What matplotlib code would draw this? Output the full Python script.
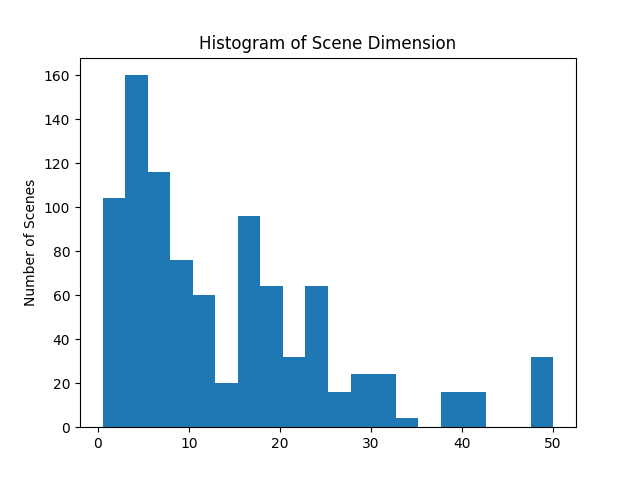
import numpy as np
import matplotlib
matplotlib.use('Agg')
import matplotlib.pyplot as plt

# scene dimension histogram
dim_min = 0.5
dim_max = 50.1
counts = [104, 160, 116, 76, 60, 20, 96, 64, 32, 64,
          16, 24, 24, 4, 0, 16, 16, 0, 0, 32]

edges = np.linspace(dim_min, dim_max, len(counts) + 1)
centers = (edges[:-1] + edges[1:]) / 2

fig = plt.figure(figsize=(6.4, 4.8), dpi=100)
plt.hist(centers, bins=edges, weights=counts)
plt.title('Histogram of Scene Dimension')
plt.ylabel('Number of Scenes')
plt.savefig('out.png')
